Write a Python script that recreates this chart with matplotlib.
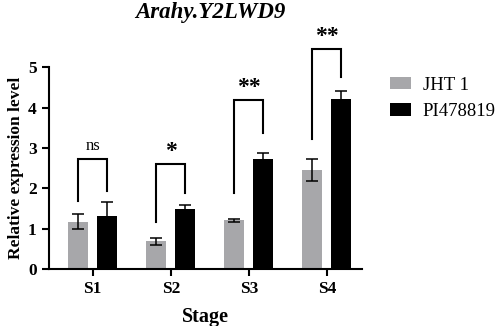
import matplotlib.pyplot as plt
import numpy as np

plt.rcParams['font.family'] = ['Liberation Serif', 'DejaVu Serif']

# data
stages = ['S1', 'S2', 'S3', 'S4']
jht_mean = [1.18, 0.69, 1.21, 2.46]
jht_err = [0.18, 0.08, 0.04, 0.27]
pi_mean = [1.31, 1.50, 2.74, 4.20]
pi_err = [0.36, 0.10, 0.14, 0.22]
sig_labels = ['ns', '*', '**', '**']
bracket_top = [2.73, 2.60, 4.18, 5.46]
leg_left = [1.70, 1.18, 1.89, 3.23]
leg_right = [1.94, 1.89, 3.36, 4.76]

gray = '#A7A7AA'

fig = plt.figure(figsize=(4.98, 3.26), dpi=100)
ax = fig.add_axes([0.0974, 0.174, 0.6296, 0.62])

x = np.arange(len(stages))
off = 0.186
w = 0.256
ekw = dict(elinewidth=1.1, capthick=1.1, capsize=4, ecolor='black')
ax.bar(x - off, jht_mean, w, color=gray, yerr=jht_err, error_kw=ekw, label='JHT 1')
ax.bar(x + off, pi_mean, w, color='black', yerr=pi_err, error_kw=ekw, label='PI478819')

# significance brackets
for i in range(len(stages)):
    xl, xr = x[i] - off, x[i] + off
    ax.plot([xl, xl, xr, xr], [leg_left[i], bracket_top[i], bracket_top[i], leg_right[i]],
            color='black', lw=1.5, clip_on=False, solid_joinstyle='miter')
    lab = sig_labels[i]
    if lab == 'ns':
        ax.text(x[i], bracket_top[i] + 0.12, lab, ha='center', va='bottom', fontsize=12)
    else:
        ax.text(x[i], bracket_top[i] + 0.05, lab, ha='center', va='bottom',
                fontsize=17, fontweight='bold')

ax.set_xlim(-0.566, 3.45)
ax.set_ylim(0, 5)
ax.set_yticks(range(6))
ax.set_xticks(x)
ax.set_xticklabels(stages)
for s in ['top', 'right']:
    ax.spines[s].set_visible(False)
for s in ['left', 'bottom']:
    ax.spines[s].set_linewidth(1.5)
ax.tick_params(width=1.5, length=5, labelsize=12.5)
for t in ax.get_xticklabels() + ax.get_yticklabels():
    t.set_fontweight('bold')

ax.set_xlabel('Stage', fontsize=14.5, fontweight='bold', labelpad=7)
ax.set_ylabel('Relative expression level', fontsize=12.5, fontweight='bold', labelpad=3)
fig.text(0.422, 0.963, 'Arahy.Y2LWD9', ha='center', va='center', fontsize=16.5,
         fontweight='bold', style='italic')

ax.legend(loc='upper left', bbox_to_anchor=(0.783, 0.765), bbox_transform=fig.transFigure,
          frameon=False, fontsize=13.5, borderpad=0, borderaxespad=0,
          handlelength=1.12, handleheight=0.64, labelspacing=0.5, handletextpad=0.64)

fig.savefig('out.png', dpi=100)
